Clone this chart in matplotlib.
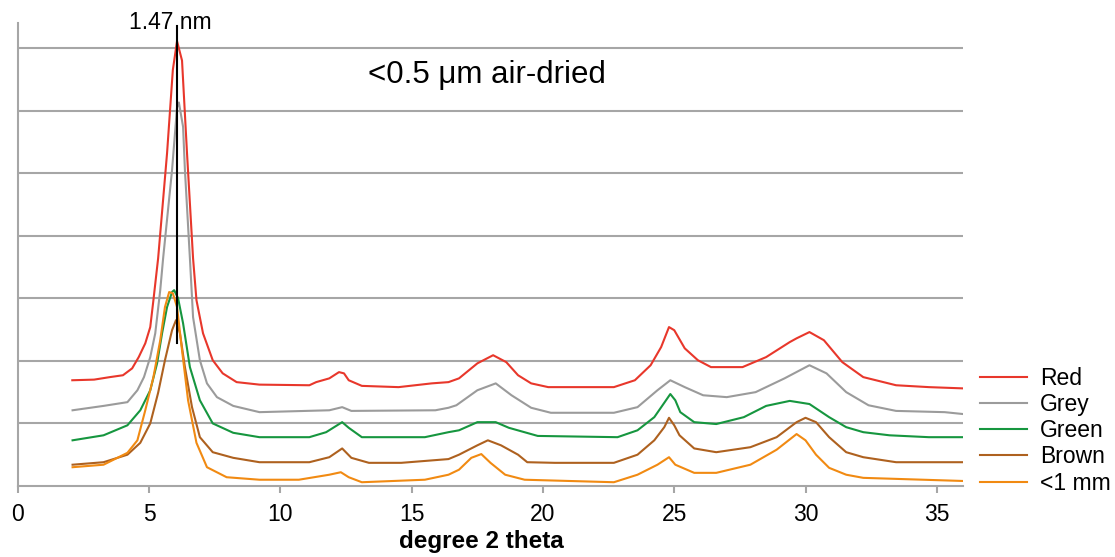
import numpy as np
import matplotlib
matplotlib.use('Agg')
import matplotlib.pyplot as plt

plt.rcParams['font.family'] = ['Liberation Sans', 'DejaVu Sans']

# degree 2 theta / intensity (offset, gridline units)
red_x = [2.07, 2.9, 3.5, 4.0, 4.35, 4.6, 4.85, 5.04, 5.16, 5.34, 5.68, 5.9, 6.06, 6.25, 6.44, 6.67,
         6.8, 7.05, 7.42, 7.8, 8.33, 9.2, 11.1, 11.36, 11.86, 12.23, 12.42, 12.6, 13.1, 14.5, 15.76,
         16.4, 16.8, 17.5, 18.1, 18.6, 19.05, 19.55, 20.2, 22.7, 23.5, 24.1, 24.5, 24.8, 25.0, 25.4,
         25.9, 26.4, 27.6, 28.5, 29.4, 29.66, 30.15, 30.7, 31.4, 32.2, 33.45, 34.7, 36.0]
red_y = [1.69, 1.70, 1.74, 1.77, 1.88, 2.06, 2.28, 2.54, 2.97, 3.64, 5.32, 6.65, 7.11, 6.80, 5.32, 3.64,
         2.97, 2.44, 2.01, 1.80, 1.66, 1.62, 1.61, 1.66, 1.72, 1.82, 1.80, 1.69, 1.60, 1.58, 1.64,
         1.66, 1.72, 1.96, 2.09, 1.98, 1.77, 1.64, 1.58, 1.58, 1.69, 1.93, 2.22, 2.54, 2.49, 2.20,
         2.01, 1.90, 1.90, 2.06, 2.30, 2.36, 2.46, 2.33, 1.98, 1.74, 1.61, 1.58, 1.56]

grey_x = [2.08, 3.26, 4.17, 4.55, 4.8, 5.04, 5.23, 5.42, 5.53, 5.87, 6.06, 6.13, 6.29, 6.36, 6.55,
          6.67, 6.93, 7.2, 7.58, 8.2, 9.2, 11.86, 12.35, 12.7, 15.9, 16.4, 16.7, 17.5, 18.2, 18.8,
          19.55, 20.3, 22.7, 23.6, 24.36, 24.85, 25.4, 26.1, 27.0, 28.1, 29.2, 30.15, 30.8, 31.55,
          32.4, 33.45, 35.3, 36.0]
grey_y = [1.21, 1.28, 1.34, 1.53, 1.74, 2.06, 2.44, 3.13, 3.64, 5.05, 6.05, 6.13, 5.74, 5.05, 3.64,
          2.70, 2.01, 1.64, 1.42, 1.28, 1.18, 1.21, 1.26, 1.20, 1.21, 1.25, 1.29, 1.53, 1.64, 1.45,
          1.25, 1.17, 1.17, 1.26, 1.53, 1.69, 1.58, 1.45, 1.42, 1.50, 1.72, 1.93, 1.80, 1.50,
          1.29, 1.20, 1.18, 1.15]

green_x = [2.08, 3.26, 4.17, 4.66, 5.04, 5.3, 5.49, 5.68, 5.87, 5.95, 6.1, 6.29, 6.55, 6.93, 7.42,
           8.2, 9.2, 11.1, 11.74, 12.35, 12.6, 13.1, 15.5, 16.4, 16.8, 17.5, 18.2, 18.7, 19.8, 22.84,
           23.6, 24.24, 24.62, 24.85, 25.04, 25.23, 25.76, 26.6, 27.65, 28.5, 29.4, 30.15, 30.9,
           31.55, 32.2, 33.2, 34.7, 36.0]
green_y = [0.73, 0.81, 0.97, 1.21, 1.53, 1.96, 2.44, 2.86, 3.10, 3.13, 3.00, 2.60, 1.90, 1.37, 1.00,
           0.85, 0.78, 0.78, 0.86, 1.02, 0.93, 0.78, 0.78, 0.86, 0.89, 1.02, 1.02, 0.93, 0.80, 0.78,
           0.89, 1.10, 1.33, 1.47, 1.37, 1.18, 1.02, 0.99, 1.10, 1.28, 1.36, 1.31, 1.10,
           0.94, 0.86, 0.81, 0.78, 0.78]

brown_x = [2.08, 3.26, 4.17, 4.66, 5.04, 5.34, 5.6, 5.87, 6.02, 6.17, 6.36, 6.63, 6.93, 7.42, 8.2,
           9.2, 11.1, 11.86, 12.35, 12.7, 13.37, 14.6, 16.4, 16.8, 17.5, 17.9, 18.4, 19.05, 19.4,
           20.45, 22.7, 23.6, 24.24, 24.62, 24.8, 25.0, 25.2, 25.76, 26.6, 27.9, 28.9, 29.66, 30.0,
           30.4, 30.9, 31.55, 32.2, 33.45, 36.0]
brown_y = [0.34, 0.38, 0.50, 0.69, 1.00, 1.49, 2.01, 2.49, 2.65, 2.44, 1.90, 1.26, 0.78, 0.54, 0.45,
           0.38, 0.38, 0.46, 0.60, 0.45, 0.37, 0.37, 0.43, 0.50, 0.65, 0.73, 0.65, 0.50, 0.38,
           0.37, 0.37, 0.50, 0.73, 0.94, 1.09, 0.97, 0.81, 0.60, 0.54, 0.62, 0.78, 1.02, 1.09,
           1.02, 0.78, 0.54, 0.46, 0.38, 0.38]

fine_x = [2.08, 3.26, 4.17, 4.55, 4.85, 5.16, 5.42, 5.6, 5.76, 5.9, 6.06, 6.25, 6.48, 6.8, 7.2,
          7.95, 9.2, 10.7, 11.86, 12.3, 12.6, 13.1, 15.5, 16.4, 16.8, 17.27, 17.65, 18.0, 18.56,
          19.3, 22.7, 23.6, 24.36, 24.8, 25.04, 25.76, 26.6, 27.9, 28.9, 29.66, 30.0, 30.4, 30.9,
          31.55, 32.2, 36.0]
fine_y = [0.30, 0.34, 0.53, 0.73, 1.21, 1.74, 2.33, 2.86, 3.10, 3.08, 2.86, 2.17, 1.37, 0.69, 0.30,
          0.14, 0.10, 0.10, 0.18, 0.22, 0.14, 0.06, 0.10, 0.18, 0.26, 0.45, 0.51, 0.37, 0.18,
          0.10, 0.06, 0.18, 0.34, 0.46, 0.34, 0.21, 0.21, 0.34, 0.58, 0.83, 0.73, 0.50, 0.29,
          0.18, 0.13, 0.08]

series = [('Red', red_x, red_y, '#E8372B'),
          ('Grey', grey_x, grey_y, '#9B9B9B'),
          ('Green', green_x, green_y, '#16963F'),
          ('Brown', brown_x, brown_y, '#AE611F'),
          ('<1 mm', fine_x, fine_y, '#F18A12')]

peak_pos = 6.05
peak_label = '1.47 nm'
title = '<0.5 \u03bcm air-dried'

fig = plt.figure(figsize=(11.15, 5.57), dpi=100)
ax = fig.add_axes([0.0161, 0.1275, 0.8476, 0.8312])

for y in range(1, 8):
    ax.axhline(y, color='#A6A6A6', lw=1.5, zorder=1)

for name, xs, ys, c in series:
    ax.plot(xs, ys, color=c, lw=1.5, label=name, zorder=3)

ax.plot([peak_pos, peak_pos], [2.28, 7.36], color='black', lw=1.5, zorder=4, clip_on=False)
ax.text(peak_pos - 0.25, 7.31, peak_label, ha='center', va='baseline', fontsize=16.5)
ax.text(17.85, 6.57, title, ha='center', va='center', fontsize=22.5)

ax.set_xlim(0, 36)
ax.set_ylim(0, 7.4)
ax.set_xticks(np.arange(0, 36, 5))
ax.set_yticks([])
for s in ['top', 'right']:
    ax.spines[s].set_visible(False)
for s in ['left', 'bottom']:
    ax.spines[s].set_color('#A6A6A6')
    ax.spines[s].set_linewidth(1.5)
ax.tick_params(axis='x', colors='#A6A6A6', labelcolor='black', labelsize=16.5, length=5,
               width=1.5, pad=7)
ax.set_xlabel('degree 2 theta', fontsize=17.5, fontweight='bold', labelpad=4)
ax.xaxis.set_label_coords(0.49, -0.095)

ax.legend(loc='lower left', bbox_to_anchor=(0.879, 0.112), bbox_transform=fig.transFigure,
          frameon=False, fontsize=16.5, handlelength=2.05, labelspacing=0.14, handletextpad=0.55,
          borderaxespad=0, borderpad=0)

fig.savefig('out.png', dpi=100)
